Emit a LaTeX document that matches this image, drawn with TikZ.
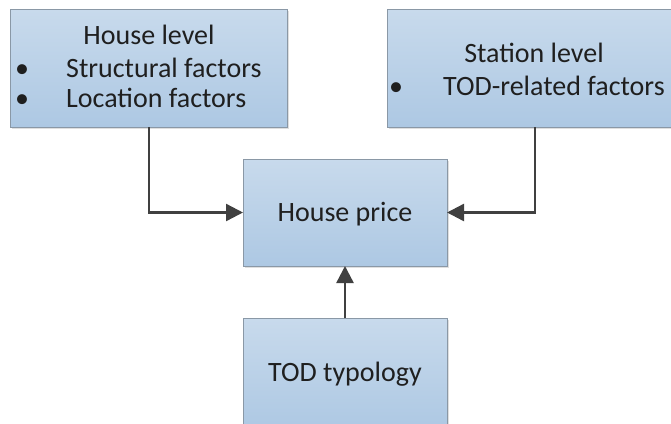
\documentclass[tikz,border=0pt]{standalone}
\usepackage{fontspec}
\setmainfont{Carlito}
\usetikzlibrary{arrows.meta,shadows}
\definecolor{boxtop}{HTML}{C8DAEC}
\definecolor{boxbot}{HTML}{ADC8E3}
\definecolor{boxline}{HTML}{8A98A6}
\definecolor{arr}{HTML}{404040}
\tikzset{
  blk/.style={draw=boxline, line width=0.9pt, top color=boxtop, bottom color=boxbot,
    inner sep=0pt, outer sep=0pt,
    drop shadow={shadow xshift=2pt, shadow yshift=-2pt, fill=black!25, opacity=0.5}},
  conn/.style={draw=arr, line width=2.4pt, -{Triangle[length=17pt,width=17pt]}},
  txt/.style={font=\fontsize{28}{32}\selectfont, text=black!88, inner sep=0pt, anchor=base west}
}
\begin{document}
\begin{tikzpicture}[x=1pt,y=-1pt]
\useasboundingbox (0,0) rectangle (671,423);
\node[blk, minimum width=277pt, minimum height=118pt] (hlev) at (148.5,68) {};
\node[blk, minimum width=293pt, minimum height=118pt] (slev) at (533.5,68) {};
\node[blk, minimum width=204pt, minimum height=107pt] (hp) at (345,212.5) {};
\node[blk, minimum width=204pt, minimum height=112pt] (tod) at (345,374) {};
\node[txt, anchor=base] (t1) at (149,44) {House level};
\node[txt, anchor=base] (b1) at (22,77) {•};
\node[txt] (t2) at (66,77) {Structural factors};
\node[txt, anchor=base] (b2) at (22,107) {•};
\node[txt] (t3) at (66,107) {Location factors};
\node[txt, anchor=base] (t4) at (534,62) {Station level};
\node[txt, anchor=base] (b3) at (396,95) {•};
\node[txt] (t5) at (443,95) {TOD-related factors};
\node[txt, anchor=base] (t6) at (345,221) {House price};
\node[txt, anchor=base] (t7) at (345,381) {TOD typology};
\draw[conn] (hlev.south -| 149,0) |- (hp.west);
\draw[conn] (slev.south -| 535,0) |- (hp.east);
\draw[conn] (tod.north) -- (hp.south);
\end{tikzpicture}
\end{document}
